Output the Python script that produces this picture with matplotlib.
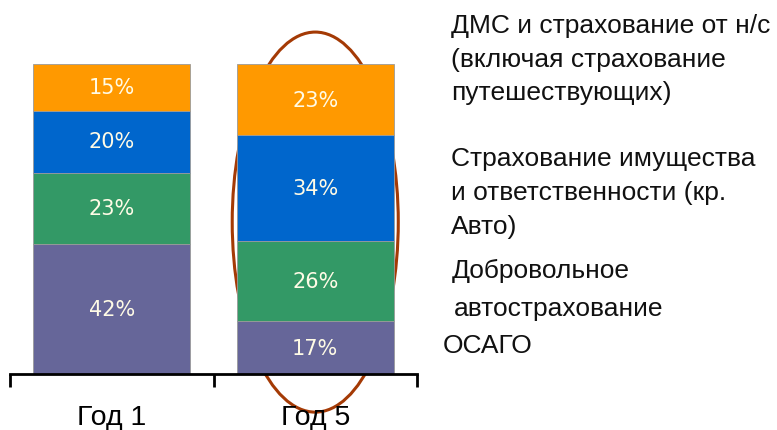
import matplotlib
matplotlib.use("Agg")
import matplotlib.pyplot as plt
from matplotlib.patches import Ellipse
from matplotlib.transforms import blended_transform_factory
import numpy as np

# Data: share of premiums by line of business
years = ["Год 1", "Год 5"]
osago = [42, 17]
kasko = [23, 26]
property_liab = [20, 34]
dms = [15, 23]

series = [osago, kasko, property_liab, dms]
colors = ["#666699", "#339966", "#0066CC", "#FF9900"]

legend_lines = [
    (["ДМС и страхование от н/с", "(включая страхование", "путешествующих)"], 451),
    (["Страхование имущества", "и ответственности (кр.", "Авто)"], 451),
    (["Добровольное"], 452),
    (["автострахование"], 454),
    (["ОСАГО"], 443),
]

W, H = 777, 431
fig = plt.figure(figsize=(W / 100, H / 100), dpi=100)
ax = fig.add_axes([10 / W, (H - 375) / H, 407 / W, 310 / H])

x = np.arange(len(years))
bottom = np.zeros(len(years))
for vals, col in zip(series, colors):
    vals = np.array(vals, dtype=float)
    ax.bar(x, vals, width=0.77, bottom=bottom, color=col,
           edgecolor="#9a9a9a", linewidth=0.6, zorder=3)
    for xi, b, v in zip(x, bottom, vals):
        ax.text(xi, b + v / 2, f"{int(v)}%", ha="center", va="center",
                color="#FFFBE6", fontsize=15, family="DejaVu Sans", zorder=4)
    bottom += vals

ax.set_xlim(-0.5, 1.5)
ax.set_ylim(0, 100)

# highlight around the second bar
ell = Ellipse((1, 49), width=0.816, height=122.6, fill=False,
              edgecolor="#A43A05", linewidth=2.2, clip_on=False, zorder=1)
ax.add_patch(ell)

for s in ["top", "left", "right"]:
    ax.spines[s].set_visible(False)
ax.spines["bottom"].set_linewidth(2)
ax.spines["bottom"].set_zorder(5)
ax.set_yticks([])
ax.set_xticks([-0.5, 0.5, 1.5])
ax.set_xticklabels([])
ax.tick_params(axis="x", length=9, width=2, direction="out")

# year labels below the axis
trans = blended_transform_factory(ax.transData, fig.transFigure)
for xi, lab in zip(x, years):
    ax.text(xi, 1 - 425 / H, lab, transform=trans, ha="center", va="baseline",
            fontsize=20.5, family="Liberation Sans", color="black")

# category descriptions on the right
y_px = [33, 67, 100, 166, 200, 234, 278, 316, 353]
i = 0
for lines, xpx in legend_lines:
    for ln in lines:
        fig.text(xpx / W, 1 - y_px[i] / H, ln, ha="left", va="baseline",
                 fontsize=19, family="Liberation Sans", color="#111111")
        i += 1

fig.savefig("out.png", dpi=100)
